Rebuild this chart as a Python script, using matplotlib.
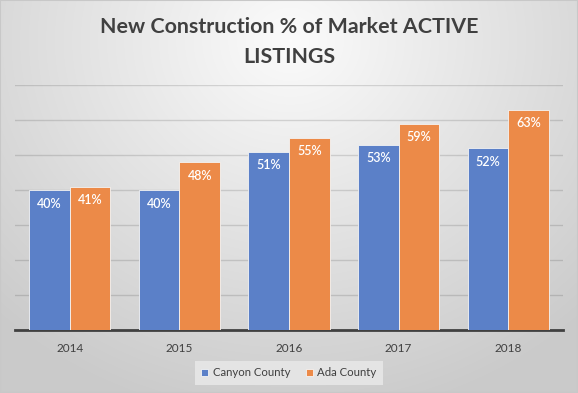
import numpy as np
import matplotlib
matplotlib.use("Agg")
import matplotlib.pyplot as plt
from matplotlib.patches import Rectangle

# =========================
# DADOS
# =========================
anos = ["2014", "2015", "2016", "2017", "2018"]
canyon = [40, 40, 51, 53, 52]
ada = [41, 48, 55, 59, 63]
series = ["Canyon County", "Ada County"]

COR_CANYON = "#5B80C8"
COR_ADA = "#EC8A48"
COR_TEXTO = "#404040"

plt.rcParams["font.family"] = ["Lato", "DejaVu Sans"]

fig = plt.figure(figsize=(5.78, 3.93), dpi=100)

# fundo com gradiente radial
bg = fig.add_axes([0, 0, 1, 1], zorder=-10)
h, w = 393, 578
yy, xx = np.mgrid[0:h, 0:w]
d = np.sqrt(((xx - 290) / 420.0) ** 2 + ((yy - 40) / 380.0) ** 2)
d = np.clip(d, 0, 1)
val = 0.985 - 0.19 * d
img = np.dstack([val, val, val])
bg.imshow(img, aspect="auto", extent=[0, 1, 0, 1], origin="upper")
bg.set_axis_off()
bg.add_patch(Rectangle((0, 0), 1, 1, transform=bg.transAxes, fill=False,
                       edgecolor="#c8c8c8", linewidth=1.5))

ax = fig.add_axes([15 / 578, 63 / 393, 548 / 578, 245 / 393])
ax.set_facecolor("none")

x = np.arange(len(anos))
largura = 0.37

b1 = ax.bar(x - largura / 2, canyon, largura, color=COR_CANYON,
            edgecolor="#f4f4f4", linewidth=0.6, label=series[0], zorder=3)
b2 = ax.bar(x + largura / 2, ada, largura, color=COR_ADA,
            edgecolor="#f4f4f4", linewidth=0.6, label=series[1], zorder=3)

# rótulos dentro das barras
for barras, valores in [(b1, canyon), (b2, ada)]:
    for b, v in zip(barras, valores):
        ax.annotate(f"{v}%", (b.get_x() + b.get_width() / 2, v),
                    xytext=(0, -10), textcoords="offset points",
                    ha="center", va="center", color="white",
                    fontsize=9, fontweight="semibold", zorder=4)

ax.set_xlim(-0.5, len(anos) - 0.5)
ax.set_ylim(0, 70)
ax.set_yticks(np.arange(10, 71, 10))
ax.yaxis.grid(True, color="black", alpha=0.13, linewidth=1)
ax.set_axisbelow(True)
ax.tick_params(axis="y", left=False, labelleft=False)
ax.tick_params(axis="x", length=0, pad=9, labelsize=8.5, colors=COR_TEXTO)
ax.set_xticks(x)
ax.set_xticklabels(anos)

for lado in ["top", "right", "left"]:
    ax.spines[lado].set_visible(False)
ax.spines["bottom"].set_color("#404040")
ax.spines["bottom"].set_linewidth(2)

fig.text(0.5, 1 - 27 / 393, "New Construction % of Market ACTIVE",
         ha="center", va="center", fontsize=15.4, fontweight="bold", color=COR_TEXTO)
fig.text(0.5, 1 - 57 / 393, "LISTINGS",
         ha="center", va="center", fontsize=15.4, fontweight="bold", color=COR_TEXTO)

leg = fig.legend(loc="center", bbox_to_anchor=(289 / 578, 1 - 373 / 393),
                 ncol=2, frameon=True, fontsize=8.2, handlelength=0.6,
                 handleheight=0.6, handletextpad=0.4, columnspacing=1.4,
                 borderpad=0.55, fancybox=False)
leg.get_frame().set_facecolor("#e4e4e4")
leg.get_frame().set_edgecolor("none")
leg.get_frame().set_alpha(1)
for t in leg.get_texts():
    t.set_color(COR_TEXTO)

fig.savefig("out.png", dpi=100)
